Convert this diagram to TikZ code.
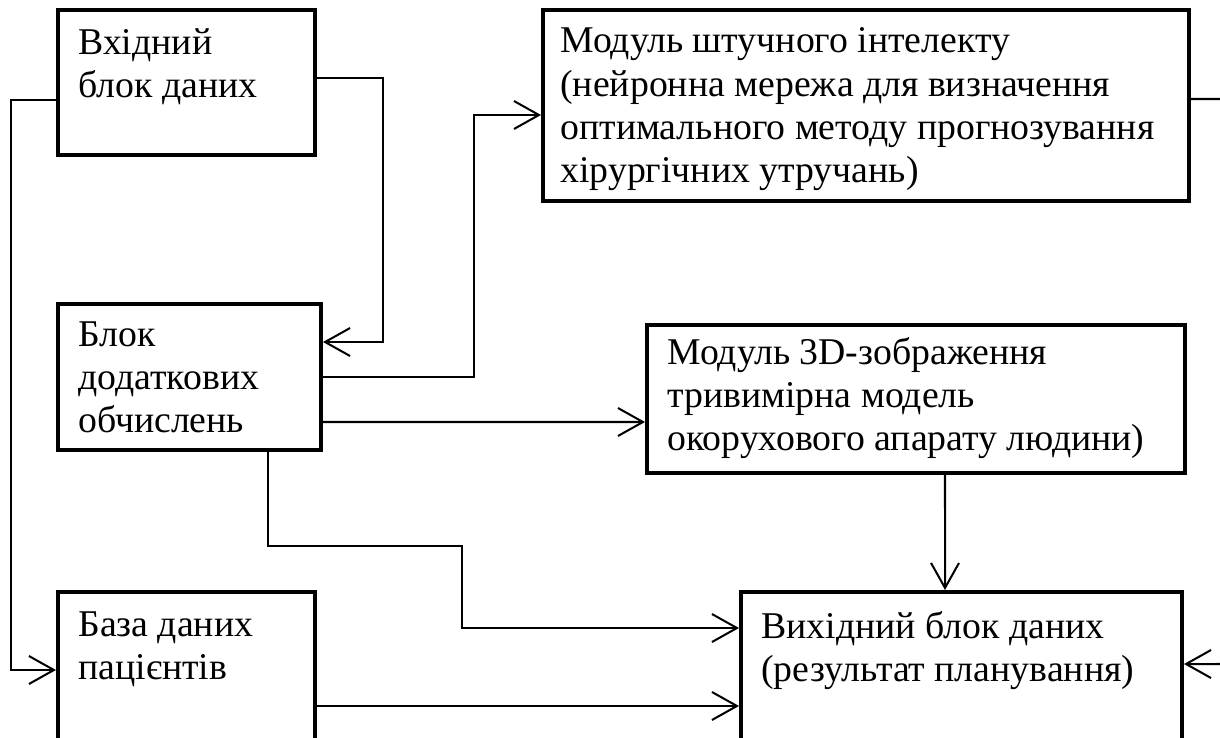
\documentclass[tikz,border=0pt]{standalone}
\usepackage{fontspec}
\setmainfont{Liberation Serif}
\usetikzlibrary{arrows.meta,positioning}

\begin{document}
\begin{tikzpicture}[
    x=0.02cm, y=-0.02cm,
    block/.style={rectangle, draw, line width=2.3pt, inner sep=0pt},
    txt/.style={anchor=base west, align=left, inner sep=0pt, font=\fontsize{21.5pt}{24.7pt}\selectfont},
    line/.style={draw, line width=1.15pt, -{Straight Barb[length=0.5cm, width=0.56cm]}},
    wire/.style={draw, line width=1.15pt}
]
    \useasboundingbox (0,0) rectangle (1220,737);
    \clip (0,0) rectangle (1220,737);

    % blocks
    \node [block, minimum width=5.14cm, minimum height=2.9cm] (inp) at (186.5,82.5) {};
    \node [block, minimum width=5.26cm, minimum height=2.92cm] (calc) at (189.5,377) {};
    \node [block, minimum width=5.14cm, minimum height=3.76cm] (db) at (186.5,686) {};
    \node [block, minimum width=12.92cm, minimum height=3.82cm] (ai) at (866,105.5) {};
    \node [block, minimum width=10.76cm, minimum height=2.96cm] (vis) at (916,399) {};
    \node [block, minimum width=8.82cm, minimum height=3.76cm] (outp) at (961.5,686) {};

    % texts (anchored at the baseline of their last line)
    \node [txt] (inpT) at ([shift={(0.44cm,-1.8cm)}]inp.north west) {Вхідний\\блок даних};
    \node [txt] (calcT) at ([shift={(0.44cm,-2.62cm)}]calc.north west) {Блок\\додаткових\\обчислень};
    \node [txt] (dbT) at ([shift={(0.44cm,-1.8cm)}]db.north west) {База даних\\пацієнтів};
    \node [txt] (aiT) at ([shift={(0.38cm,-3.5cm)}]ai.north west) {Модуль штучного інтелекту\\(нейронна мережа для визначення\\оптимального методу прогнозування\\хірургічних утручань)};
    \node [txt] (visT) at ([shift={(0.44cm,-2.56cm)}]vis.north west) {Модуль 3D-зображення\\тривимірна модель\\окорухового апарату людини)};
    \node [txt] (outpT) at ([shift={(0.44cm,-1.84cm)}]outp.north west) {Вихідний блок даних\\(результат планування)};

    \coordinate (aiout) at (1225,99);
    \coordinate (outin) at (1225,664);

    % connectors
    \draw [line] ([yshift=-0.35cm]inp.west) -- ++(-45,0) |- ([yshift=0.32cm]db.west);
    \draw [line] ([yshift=0.09cm]inp.east) -- ++(66,0) |- ([yshift=0.7cm]calc.east);
    \draw [line] (calc.east) -- ++(151,0) |- ([yshift=-0.19cm]ai.west);
    \draw [line] ([yshift=-0.9cm]calc.east) -- ([yshift=-0.46cm]vis.west);
    \draw [line] ([xshift=1.57cm]calc.south) -- ++(0,94) -- ++(194,0) |- ([yshift=1.16cm]outp.west);
    \draw [line] ([xshift=0.58cm]vis.south) -- ([xshift=-0.33cm]outp.north);
    \draw [line] ([yshift=-0.4cm]db.east) -- ([yshift=-0.4cm]outp.west);
    \draw [wire] ([yshift=0.13cm]ai.east) -- (aiout);
    \draw [line] (outin) -- ([yshift=0.44cm]outp.east);
\end{tikzpicture}
\end{document}
